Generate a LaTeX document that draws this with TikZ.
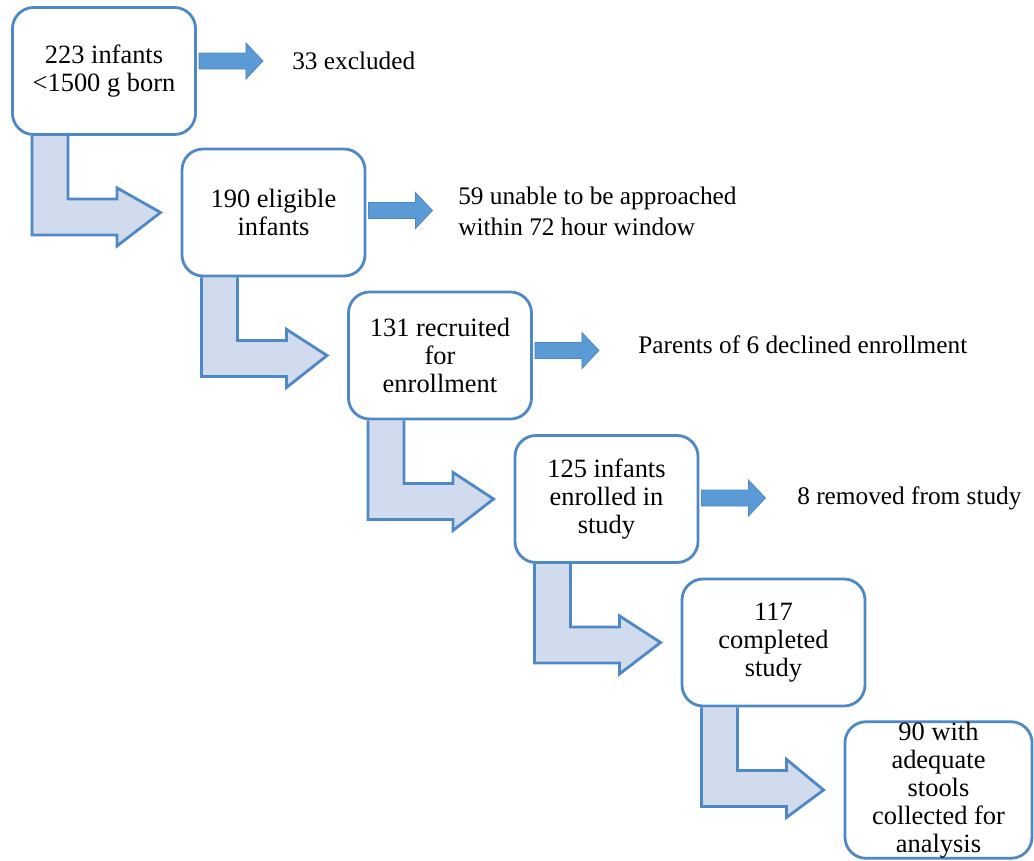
\documentclass[tikz,border=0pt]{standalone}
\usepackage{fontspec}
\setmainfont{Liberation Serif}
\usetikzlibrary{calc,backgrounds}
\definecolor{boxline}{RGB}{79,136,198}
\definecolor{arrowfill}{RGB}{91,155,213}
\definecolor{bendfill}{RGB}{208,220,238}
\begin{document}
\begin{tikzpicture}[x=0.025cm,y=-0.025cm]
	\tikzstyle{every node}+=[inner sep=0pt]
	\tikzstyle{stagebox}=[draw=boxline, line width=2pt, rounded corners=15pt, fill=white, minimum width=4.575cm, minimum height=3.175cm, align=center, font=\fontsize{18.8}{20}\selectfont]
	\tikzstyle{sidetext}=[anchor=west, align=left, font=\fontsize{18}{22}\selectfont]
	\tikzstyle{sidearrow}=[draw=boxline, line width=0.6pt, fill=arrowfill]
	\tikzstyle{bentarrow}=[draw=boxline, line width=2pt, fill=bendfill, line join=miter]
	\useasboundingbox (0,0) rectangle (1034,861);
	\node [stagebox] (b1) at (104,71) {223 infants\\<1500 g born};
	\node [stagebox] (b2) at (273.5,212.5) {190 eligible\\infants};
	\node [stagebox] (b3) at (440,355.5) {131 recruited\\for\\enrollment};
	\node [stagebox] (b4) at (606.5,499) {125 infants\\enrolled in\\study};
	\node [stagebox] (b5) at (773.5,642.5) {117\\completed\\study};
	\node [stagebox, minimum width=4.675cm, minimum height=3.4cm] (b6) at (938.5,790) {90 with\\adequate\\stools\\collected for\\analysis};
	\node [sidetext] (t1) at (292,61) {33 excluded};
	\node [sidetext] (t2) at (458,211.5) {59 unable to be approached\\within 72 hour window};
	\node [sidetext] (t3) at (638,345) {Parents of 6 declined enrollment};
	\node [sidetext] (t4) at (797,498) {8 removed from study};
	\foreach \i/\dy in {1/-10,2/-2,3/-5,4/-1} {
		\draw [sidearrow] ($(b\i.east)+(2,\dy-8)$) -- ++(47,0) -- ++(0,-10) -- ++(17,18) -- ++(-17,18) -- ++(0,-10) -- ++(-47,0) -- cycle;
	}
	\begin{pgfonlayer}{background}
	\foreach \i [evaluate=\i as \j using int(\i+1)] in {1,...,5} {
		\draw [bentarrow] ($(b\i.south west)+(21,0)$) -- ($(b\i.south west)+(21,99)$) -- ($(b\i.south west)+(106,99)$) -- ($(b\i.south west)+(106,110)$) -- ($(b\j.west)+(-20,0)$) -- ($(b\i.south west)+(106,52)$) -- ($(b\i.south west)+(106,63)$) -- ($(b\i.south west)+(57,63)$) -- ($(b\i.south west)+(57,0)$);
	}
	\end{pgfonlayer}
\end{tikzpicture}
\end{document}
